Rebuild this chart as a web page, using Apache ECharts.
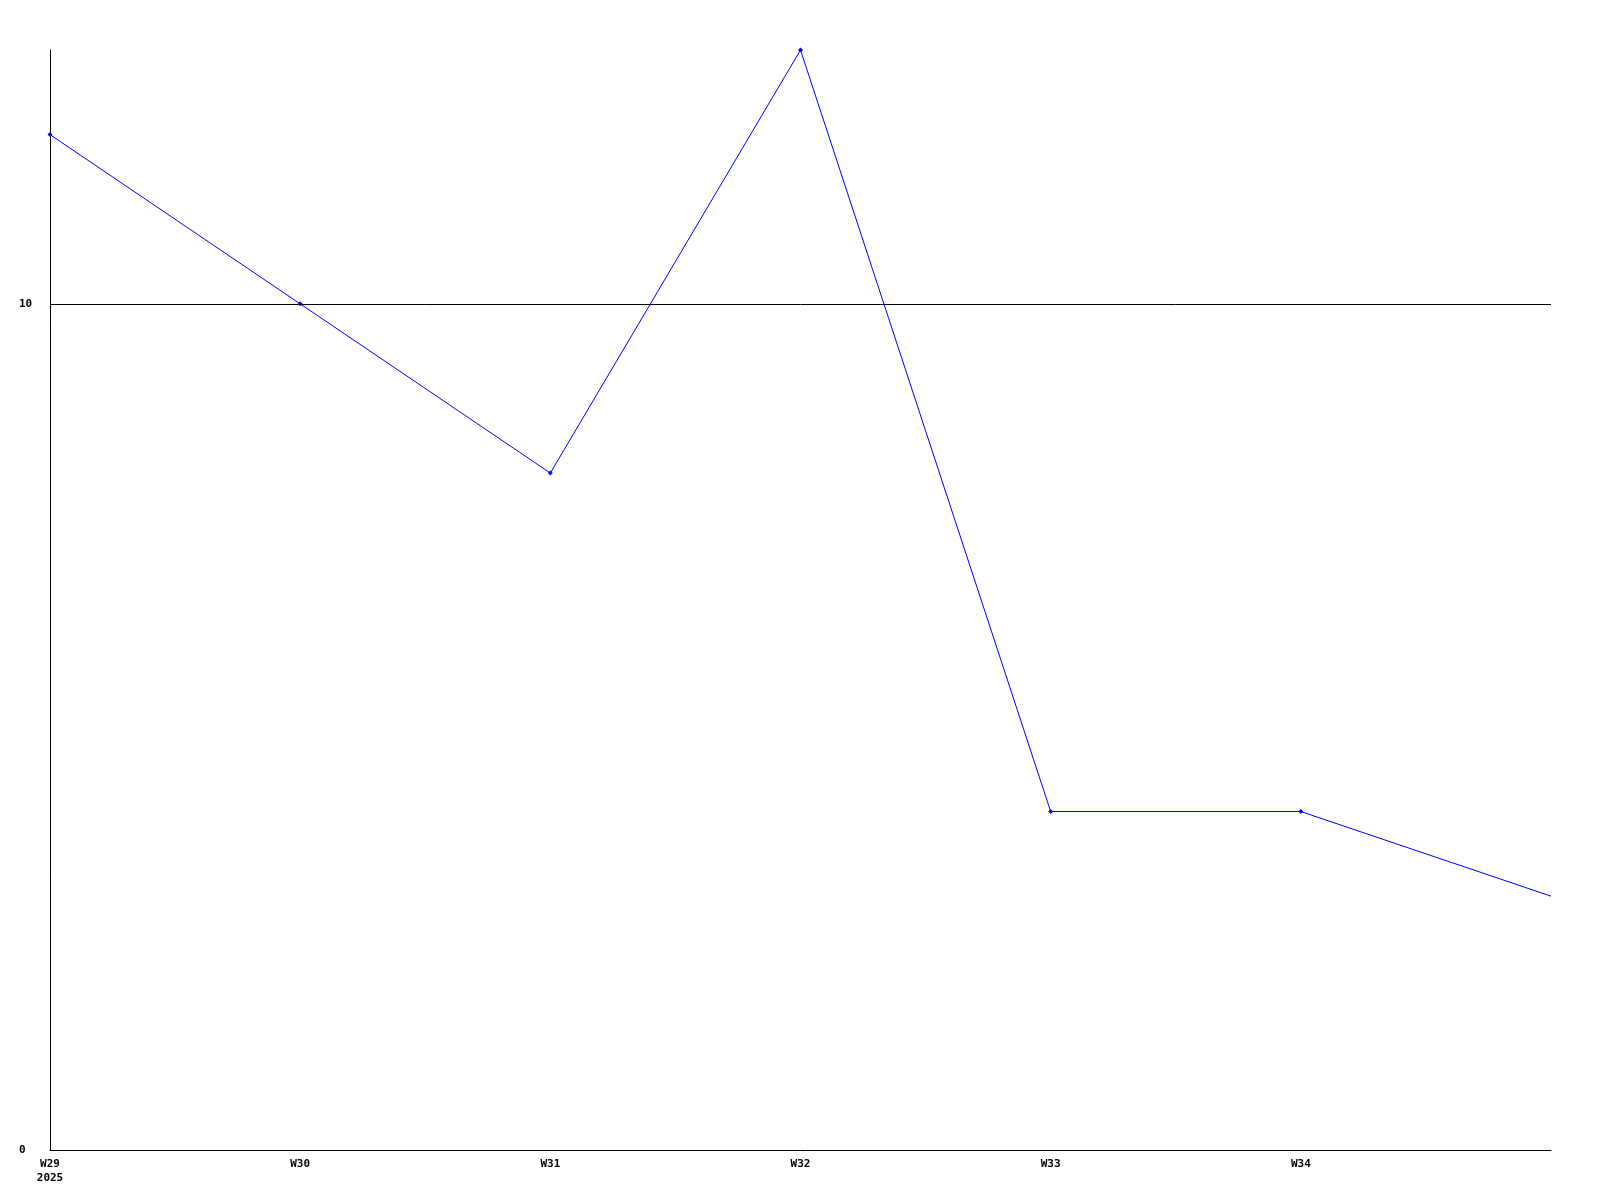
<!DOCTYPE html>
<html>
<head>
<meta charset="utf-8">
<script src="https://cdn.jsdelivr.net/npm/echarts@6/dist/echarts.min.js"></script>
<style>
html,body{margin:0;padding:0;background:#fff;}
#chart{width:1600px;height:1200px;}
</style>
</head>
<body>
<div id="chart"></div>
<script>
const categories = ["W29\n2025", "W30", "W31", "W32", "W33", "W34", ""];
const values = [12, 10, 8, 13, 4, 4, 3];
const yTicks = [0, 10];
const refLine = 10;

const seriesData = values.map(function (v, i) {
  return i === values.length - 1 ? {value: v, symbol: 'none'} : v;
});

const chart = echarts.init(document.getElementById('chart'), null, {renderer: 'canvas'});
const font = '"DejaVu Sans Mono", monospace';
chart.setOption({
  animation: false,
  backgroundColor: '#ffffff',
  grid: {left: 50, right: 49, top: 50, bottom: 50, containLabel: false},
  xAxis: {
    type: 'category',
    data: categories,
    boundaryGap: false,
    axisLine: {show: true, lineStyle: {color: '#000', width: 1}},
    axisTick: {show: false},
    splitLine: {show: false},
    axisLabel: {
      interval: 0,
      margin: 7,
      color: '#000',
      fontFamily: font,
      fontWeight: 'bold',
      fontSize: 11,
      lineHeight: 14
    }
  },
  yAxis: {
    type: 'value',
    min: 0,
    max: 13,
    interval: 10,
    axisLine: {show: true, lineStyle: {color: '#000', width: 1}},
    axisTick: {show: false},
    splitLine: {show: false},
    axisLabel: {
      align: 'left',
      margin: 31,
      color: '#000',
      fontFamily: font,
      fontWeight: 'bold',
      fontSize: 11,
      formatter: function (v) { return yTicks.indexOf(v) >= 0 ? String(v) : ''; }
    }
  },
  series: [{
    type: 'line',
    data: seriesData,
    symbol: 'diamond',
    symbolSize: 5,
    showSymbol: true,
    clip: false,
    lineStyle: {color: '#0000ff', width: 1},
    itemStyle: {color: '#0000ff'},
    markLine: {
      silent: true,
      symbol: ['none', 'none'],
      label: {show: false},
      lineStyle: {color: '#000', width: 1, type: 'solid'},
      data: [{yAxis: refLine}]
    }
  }]
});
</script>
</body>
</html>
